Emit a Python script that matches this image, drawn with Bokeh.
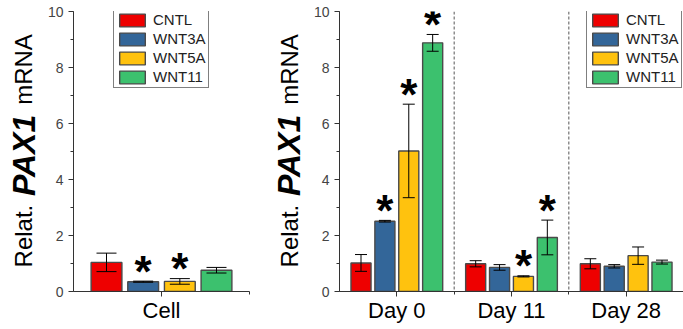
import numpy as np
from bokeh.plotting import figure
from bokeh.models import (Range1d, FixedTicker, SingleIntervalTicker, Whisker,
                          ColumnDataSource, Span, Legend, LegendItem, TeeHead)
from bokeh.layouts import row
from bokeh.embed import file_html
from bokeh.resources import INLINE
from bokeh.core.properties import value

FONT = "Liberation Sans"

treatments = ["CNTL", "WNT3A", "WNT5A", "WNT11"]
colors = ["#EE0000", "#336699", "#FFC20E", "#3CC16E"]

# Left panel: cells
cell_labels = ["Cell"]
cell_cntl = [1.04]
cell_wnt3a = [0.35]
cell_wnt5a = [0.36]
cell_wnt11 = [0.76]
cell_cntl_err = [0.33]
cell_wnt3a_err = [0.02]
cell_wnt5a_err = [0.10]
cell_wnt11_err = [0.10]
cell_cntl_sig = [False]
cell_wnt3a_sig = [True]
cell_wnt5a_sig = [True]
cell_wnt11_sig = [False]

# Right panel: days
day_labels = ["Day 0", "Day 11", "Day 28"]
day_cntl = [1.02, 0.99, 0.99]
day_wnt3a = [2.51, 0.86, 0.90]
day_wnt5a = [5.02, 0.54, 1.28]
day_wnt11 = [8.88, 1.93, 1.05]
day_cntl_err = [0.30, 0.11, 0.18]
day_wnt3a_err = [0.03, 0.10, 0.06]
day_wnt5a_err = [1.67, 0.02, 0.31]
day_wnt11_err = [0.30, 0.62, 0.07]
day_cntl_sig = [False, False, False]
day_wnt3a_sig = [True, False, False]
day_wnt5a_sig = [True, True, False]
day_wnt11_sig = [True, True, False]

ylabel_parts = ["Relat.", "PAX1", "mRNA"]
y_ticks_interval = 2
DODGE = 0.2083
BAR_W = 0.175
H = 329
TOP = 11
BOTTOM = 38


def label_fig(width, baseline_x):
    p = figure(width=width, height=H, x_range=Range1d(0, width), y_range=Range1d(0, 10),
               output_backend="svg", toolbar_location=None,
               x_axis_location=None, y_axis_location=None,
               min_border_left=0, min_border_right=0, min_border_top=TOP, min_border_bottom=BOTTOM)
    p.outline_line_color = None
    p.grid.visible = False
    specs = [(1.98, "24px", "normal"), (4.86, "32px", "bold italic"), (7.93, "24px", "normal")]
    for txt, (yc, size, style) in zip(ylabel_parts, specs):
        p.text(x=[baseline_x], y=[yc], text=[txt], angle=np.pi / 2, text_align="center",
               text_baseline="alphabetic", text_font=value(FONT), text_font_size=size,
               text_font_style=style, text_color="black")
    return p


def build(labels, means, errs, sigs, width, bl, br, x_end, cap, legend_loc, dividers):
    n = len(labels)
    p = figure(width=width, height=H, x_range=Range1d(0.5, x_end), y_range=Range1d(0, 10),
               output_backend="svg", toolbar_location=None,
               min_border_left=bl, min_border_right=br, min_border_top=TOP, min_border_bottom=BOTTOM)
    p.outline_line_color = None
    p.xgrid.visible = False
    p.ygrid.visible = False

    centers = np.arange(1, n + 1)
    items = []
    sx, sy = [], []
    for i, (t, c) in enumerate(zip(treatments, colors)):
        m = np.array(means[i], dtype=float)
        e = np.array(errs[i], dtype=float)
        x = centers + (i - 1.5) * DODGE
        r = p.vbar(x=x, top=m, width=BAR_W, bottom=0, fill_color=c,
                   line_color="#4a4a4a", line_width=1.4)
        items.append(LegendItem(label=t, renderers=[r]))
        src = ColumnDataSource(dict(x=x, upper=m + e, lower=m - e))
        w = Whisker(base="x", upper="upper", lower="lower", source=src, level="annotation",
                    line_color="black", line_width=1,
                    upper_head=TeeHead(size=cap, line_color="black", line_width=1),
                    lower_head=TeeHead(size=cap, line_color="black", line_width=1))
        p.add_layout(w)
        for k in range(n):
            if sigs[i][k]:
                sx.append(x[k])
                sy.append(m[k] + e[k])
    if sx:
        p.text(x=sx, y=sy, text=["*"] * len(sx), text_font=value(FONT), text_font_style="bold",
               text_font_size="44px", text_align="center", text_baseline="alphabetic",
               y_offset=-10, text_color="black")

    for d in dividers:
        p.add_layout(Span(location=d, dimension="height", line_color="#555555",
                          line_dash="3 2", line_width=1))

    p.xaxis.ticker = FixedTicker(ticks=list(centers), minor_ticks=list(dividers) + ([1.5] if n == 1 else []))
    p.xaxis.major_label_overrides = {int(c): lab for c, lab in zip(centers, labels)}
    p.xaxis.major_label_text_font = FONT
    p.xaxis.major_label_text_font_size = "22px"
    p.xaxis.major_label_text_color = "black"
    p.xaxis.major_label_standoff = 1
    p.xaxis.major_tick_out = 5
    p.xaxis.major_tick_in = 0
    p.xaxis.minor_tick_out = 3
    p.xaxis.minor_tick_in = 0

    p.yaxis.ticker = SingleIntervalTicker(interval=y_ticks_interval, num_minor_ticks=2)
    p.yaxis.major_label_text_font = FONT
    p.yaxis.major_label_text_font_size = "14px"
    p.yaxis.major_label_text_color = "#444444"
    p.yaxis.major_tick_out = 5
    p.yaxis.major_tick_in = 0
    p.yaxis.minor_tick_out = 3
    p.yaxis.minor_tick_in = 0
    p.yaxis.major_label_standoff = 5
    for ax in (p.xaxis, p.yaxis):
        ax.axis_line_color = "#333333"
        ax.major_tick_line_color = "#333333"
        ax.minor_tick_line_color = "#333333"

    legend = Legend(items=items, location=legend_loc, border_line_color="black",
                    border_line_width=1, padding=2, spacing=2, margin=0,
                    glyph_width=32, glyph_height=16, label_height=16, label_standoff=5,
                    label_text_font=FONT, label_text_font_size="15px",
                    label_text_color="#222222", background_fill_alpha=1)
    p.add_layout(legend)
    return p


left_lab = label_fig(42, 23)
left = build(cell_labels,
             [cell_cntl, cell_wnt3a, cell_wnt5a, cell_wnt11],
             [cell_cntl_err, cell_wnt3a_err, cell_wnt5a_err, cell_wnt11_err],
             [cell_cntl_sig, cell_wnt3a_sig, cell_wnt5a_sig, cell_wnt11_sig],
             width=208, bl=31, br=1, x_end=1.5, cap=20, legend_loc=(40, 203), dividers=[])
right_lab = label_fig(60, 38.5)
right = build(day_labels,
              [day_cntl, day_wnt3a, day_wnt5a, day_wnt11],
              [day_cntl_err, day_wnt3a_err, day_wnt5a_err, day_wnt11_err],
              [day_cntl_sig, day_wnt3a_sig, day_wnt5a_sig, day_wnt11_sig],
              width=373, bl=28, br=0, x_end=3.5, cap=12, legend_loc=(247, 203),
              dividers=[1.5, 2.5])

layout = row(left_lab, left, right_lab, right)
open("out.html", "w").write(file_html(layout, INLINE))
